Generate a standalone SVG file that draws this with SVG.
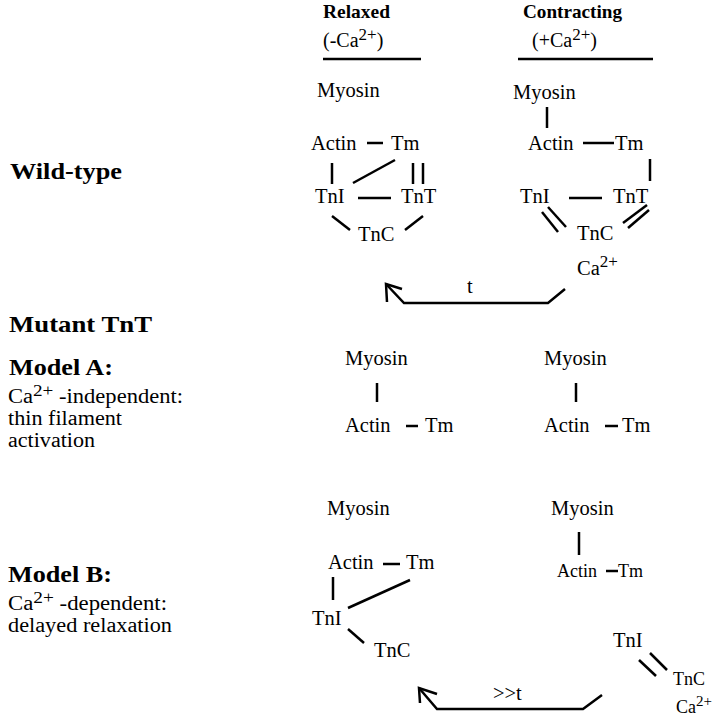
<svg xmlns="http://www.w3.org/2000/svg" width="718" height="720" viewBox="0 0 718 720">
<style>
text{font-family:"Liberation Serif","Times New Roman",serif;fill:#000}
.n{font-size:20.5px}
.s{font-size:18px}
.h{font-size:19px;font-weight:bold}
.H{font-size:23px;font-weight:bold}
.d{font-size:20px}
.sup{font-size:17px}
.c{stroke:#000;stroke-width:2.5;fill:none;stroke-linecap:butt}
.r{stroke:#000;stroke-width:2.5;fill:none}
</style>
<rect width="718" height="720" fill="#fff"/>

<g id="headers">
  <text class="h" x="323" y="18" textLength="67" lengthAdjust="spacingAndGlyphs">Relaxed</text>
  <text class="d" x="323" y="47">(-Ca<tspan class="sup" dy="-7">2+</tspan><tspan dy="7">)</tspan></text>
  <line class="r" x1="323" y1="59" x2="421" y2="59"/>
  <text class="h" x="523" y="18" textLength="99" lengthAdjust="spacingAndGlyphs">Contracting</text>
  <text class="d" x="532" y="47">(+Ca<tspan class="sup" dy="-7">2+</tspan><tspan dy="7">)</tspan></text>
  <line class="r" x1="518" y1="59" x2="653" y2="59"/>
</g>

<g id="labels">
  <text class="H" x="10" y="179" textLength="112" lengthAdjust="spacingAndGlyphs">Wild-type</text>
  <text class="H" x="9" y="332" textLength="143" lengthAdjust="spacingAndGlyphs">Mutant TnT</text>
  <text class="H" x="9" y="375" textLength="104" lengthAdjust="spacingAndGlyphs">Model A:</text>
  <text class="d" x="8" y="403" textLength="175" lengthAdjust="spacingAndGlyphs">Ca<tspan class="sup" dy="-7">2+</tspan><tspan dy="7"> -independent:</tspan></text>
  <text class="d" x="8" y="425" textLength="114" lengthAdjust="spacingAndGlyphs">thin filament</text>
  <text class="d" x="8" y="447" textLength="87" lengthAdjust="spacingAndGlyphs">activation</text>
  <text class="H" x="8" y="582" textLength="104" lengthAdjust="spacingAndGlyphs">Model B:</text>
  <text class="d" x="8" y="610" textLength="159" lengthAdjust="spacingAndGlyphs">Ca<tspan class="sup" dy="-7">2+</tspan><tspan dy="7"> -dependent:</tspan></text>
  <text class="d" x="8" y="632" textLength="164" lengthAdjust="spacingAndGlyphs">delayed relaxation</text>
</g>

<!-- Wild-type relaxed -->
<g id="wt-relaxed-myosin"><text class="n" x="317" y="97">Myosin</text></g>
<g id="wt-relaxed-actin"><text class="n" x="311" y="150">Actin</text></g>
<g id="wt-relaxed-tm"><text class="n" x="391" y="150">Tm</text></g>
<g id="wt-relaxed-tni"><text class="n" x="315" y="203">TnI</text></g>
<g id="wt-relaxed-tnt"><text class="n" x="401" y="203">TnT</text></g>
<g id="wt-relaxed-tnc"><text class="n" x="358" y="241">TnC</text></g>

<!-- Wild-type contracting -->
<g id="wt-contr-myosin"><text class="n" x="513" y="99">Myosin</text></g>
<g id="wt-contr-actin"><text class="n" x="528" y="150">Actin</text></g>
<g id="wt-contr-tm"><text class="n" x="615" y="150">Tm</text></g>
<g id="wt-contr-tni"><text class="n" x="520" y="203">TnI</text></g>
<g id="wt-contr-tnt"><text class="n" x="613" y="203">TnT</text></g>
<g id="wt-contr-tnc"><text class="n" x="577" y="240">TnC</text></g>
<g id="wt-contr-ca"><text class="n" x="577" y="275">Ca<tspan class="sup" dy="-8">2+</tspan></text></g>
<g id="wt-t"><text class="n" x="467" y="293">t</text></g>

<!-- Model A -->
<g id="a-relaxed-myosin"><text class="n" x="345" y="365">Myosin</text></g>
<g id="a-relaxed-actin"><text class="n" x="345" y="432">Actin</text></g>
<g id="a-relaxed-tm"><text class="n" x="425" y="432">Tm</text></g>
<g id="a-contr-myosin"><text class="n" x="544" y="365">Myosin</text></g>
<g id="a-contr-actin"><text class="n" x="544" y="432">Actin</text></g>
<g id="a-contr-tm"><text class="n" x="622" y="432">Tm</text></g>

<!-- Model B -->
<g id="b-relaxed-myosin"><text class="n" x="327" y="515">Myosin</text></g>
<g id="b-relaxed-actin"><text class="n" x="328" y="569">Actin</text></g>
<g id="b-relaxed-tm"><text class="n" x="406" y="569">Tm</text></g>
<g id="b-relaxed-tni"><text class="n" x="312" y="625">TnI</text></g>
<g id="b-relaxed-tnc"><text class="n" x="374" y="657">TnC</text></g>
<g id="b-contr-myosin"><text class="n" x="551" y="515">Myosin</text></g>
<g id="b-contr-actin"><text class="s" x="557" y="577">Actin</text></g>
<g id="b-contr-tm"><text class="s" x="618" y="577">Tm</text></g>
<g id="b-contr-tni"><text class="n" x="613" y="647">TnI</text></g>
<g id="b-contr-tnc"><text class="s" x="673" y="685">TnC</text></g>
<g id="b-contr-ca"><text class="s" x="676" y="713">Ca<tspan dy="-7" style="font-size:15px">2+</tspan></text></g>
<g id="b-t"><text class="n" x="493" y="700">&gt;&gt;t</text></g>

<g id="connectors">
  <!-- WT relaxed -->
  <line class="c" x1="367" y1="143" x2="383" y2="143"/>
  <line class="c" x1="332" y1="163" x2="332" y2="184"/>
  <line class="c" x1="395" y1="160" x2="353" y2="183"/>
  <line class="c" x1="413" y1="163" x2="413" y2="184"/>
  <line class="c" x1="423" y1="163" x2="423" y2="184"/>
  <line class="c" x1="358" y1="198" x2="391" y2="198"/>
  <line class="c" x1="332" y1="216" x2="350" y2="230"/>
  <line class="c" x1="405" y1="230" x2="423" y2="216"/>
  <!-- WT contracting -->
  <line class="c" x1="547" y1="107" x2="547" y2="128"/>
  <line class="c" x1="583" y1="143" x2="614" y2="143"/>
  <line class="c" x1="650" y1="159" x2="650" y2="181"/>
  <line class="c" x1="569" y1="198" x2="602" y2="198"/>
  <line class="c" x1="542" y1="212" x2="558" y2="232"/>
  <line class="c" x1="548" y1="207" x2="566" y2="227"/>
  <line class="c" x1="623" y1="223" x2="647" y2="205"/>
  <line class="c" x1="628" y1="228" x2="649" y2="210"/>
  <!-- WT arrow -->
  <polyline class="c" points="565,289 548,303 404,303 386,284"/>
  <polyline class="c" points="387,302 386,284 402,289"/>
  <!-- Model A -->
  <line class="c" x1="377" y1="383" x2="377" y2="402"/>
  <line class="c" x1="406" y1="426" x2="418" y2="426"/>
  <line class="c" x1="576" y1="383" x2="576" y2="402"/>
  <line class="c" x1="605" y1="426" x2="618" y2="426"/>
  <!-- Model B relaxed -->
  <line class="c" x1="383" y1="564" x2="400" y2="564"/>
  <line class="c" x1="333" y1="577" x2="333" y2="600"/>
  <line class="c" x1="410" y1="580" x2="348" y2="608"/>
  <line class="c" x1="348" y1="629" x2="364" y2="643"/>
  <!-- Model B contracting -->
  <line class="c" x1="579" y1="532" x2="579" y2="555"/>
  <line class="c" x1="606" y1="571" x2="618" y2="571"/>
  <line class="c" x1="639" y1="660" x2="656" y2="676"/>
  <line class="c" x1="650" y1="653" x2="667" y2="670"/>
  <!-- Model B arrow -->
  <polyline class="c" points="602,695 583,709 437,709 419,688"/>
  <polyline class="c" points="420,703 419,688 437,694"/>
</g>
</svg>
